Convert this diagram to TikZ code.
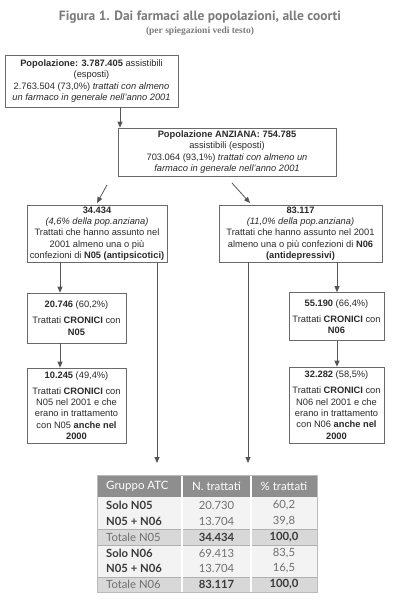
\documentclass[tikz,border=0pt]{standalone}
\usepackage{fontspec}
\setmainfont{Liberation Sans}
\newfontfamily\titlefont{PT Sans}
\newfontfamily\tabfont{Lato}
\newfontfamily\subfont{Liberation Serif}
\usetikzlibrary{arrows.meta}
\definecolor{boxgray}{HTML}{6A6A6A}
\definecolor{linegray}{HTML}{555555}
\definecolor{textc}{HTML}{2A2A2A}
\definecolor{titlegray}{HTML}{7C7C7C}
\definecolor{hdrgray}{HTML}{8E8E8E}
\definecolor{bodygray}{HTML}{F3F3F3}
\definecolor{totgray}{HTML}{D8D8D8}
\definecolor{tabtext}{HTML}{707070}
\definecolor{tabdark}{HTML}{3A3A3A}
\begin{document}
\begin{tikzpicture}[x=1pt,y=-1pt,
  box/.style={draw=boxgray, line width=0.7pt, align=center, inner sep=0pt,
    font=\fontsize{9.3}{11.3}\selectfont, text=textc},
  arr/.style={draw=linegray, line width=0.8pt, -{Triangle[length=6pt,width=5pt]}},
  tcell/.style={inner sep=0pt, font=\tabfont\fontsize{11.3}{12}\selectfont, text=tabtext},
  tbold/.style={tcell, font=\tabfont\bfseries\fontsize{11.3}{12}\selectfont, text=tabdark},
  thdr/.style={inner sep=0pt, font=\tabfont\fontsize{11.5}{12}\selectfont, text=white}]
\useasboundingbox[fill=white] (0,0) rectangle (400,600);

% title
\node[text=titlegray, font=\titlefont\bfseries\fontsize{13.5}{15}\selectfont] (title) at (200,17) {Figura 1. Dai farmaci alle popolazioni, alle coorti};
\node[text=titlegray, font=\subfont\bfseries\fontsize{9.5}{11}\selectfont] (sub) at (200,31) {(per spiegazioni vedi testo)};

% boxes
\node[box, minimum width=173pt, minimum height=52pt] (b1) at (91.5,81) {%
  \textbf{Popolazione: 3.787.405} assistibili\\ (esposti)\\
  2.763.504 (73,0\%) \textit{trattati con almeno}\\
  \textit{un farmaco in generale nell'anno 2001}};
\node[box, minimum width=218pt, minimum height=48pt] (b2) at (227,152) {%
  \textbf{Popolazione ANZIANA: 754.785}\\ assistibili (esposti)\\
  703.064 (93,1\%) \textit{trattati con almeno un}\\
  \textit{farmaco in generale nell'anno 2001}};
\node[box, minimum width=140pt, minimum height=57pt] (b3) at (97,233.5) {%
  \textbf{34.434}\\ \textit{(4,6\% della pop.anziana)}\\
  Trattati che hanno assunto nel\\ 2001 almeno una o più\\
  confezioni di \textbf{N05 (antipsicotici)}};
\node[box, minimum width=163pt, minimum height=57pt] (b4) at (300.5,233.5) {%
  \textbf{83.117}\\ \textit{(11,0\% della pop.anziana)}\\
  Trattati che hanno assunto nel 2001\\ almeno una o più confezioni di \textbf{N06}\\
  \textbf{(antidepressivi)}};
\node[box, minimum width=99pt, minimum height=50pt] (b5) at (76.5,318) {%
  \textbf{20.746} (60,2\%)\\[5pt] Trattati \textbf{CRONICI} con\\ \textbf{N05}};
\node[box, minimum width=95pt, minimum height=48pt] (b6) at (336.5,316.5) {%
  \textbf{55.190} (66,4\%)\\[5pt] Trattati \textbf{CRONICI} con\\ \textbf{N06}};
\node[box, minimum width=99pt, minimum height=75pt] (b7) at (76.5,405.5) {%
  \textbf{10.245} (49,4\%)\\[5pt] Trattati \textbf{CRONICI} con\\ N05 nel 2001 e che\\
  erano in trattamento\\ con N05 \textbf{anche nel}\\ \textbf{2000}};
\node[box, minimum width=95pt, minimum height=76pt] (b8) at (336.5,405) {%
  \textbf{32.282} (58,5\%)\\[5pt] Trattati \textbf{CRONICI} con\\ N06 nel 2001 e che\\
  erano in trattamento\\ con N06 \textbf{anche nel}\\ \textbf{2000}};

% helper coordinates
\coordinate (x1) at (120,0);
\coordinate (d1s) at (107,185);
\coordinate (d1e) at (97,203);
\coordinate (d2s) at (232,183);
\coordinate (d2e) at (250,203);
\coordinate (xl) at (60,0);
\coordinate (xr) at (337,0);
\coordinate (t1) at (157,463);
\coordinate (t2) at (248,463);

% connectors
\draw[arr] (b1.south -| x1) -- (b2.north -| x1);
\draw[arr] (d1s) -- (d1e);
\draw[arr] (d2s) -- (d2e);
\draw[arr] (b3.south -| xl) -- (b5.north -| xl);
\draw[arr] (b5.south -| xl) -- (b7.north -| xl);
\draw[arr] (b4.south -| xr) -- (b6.north -| xr);
\draw[arr] (b6.south -| xr) -- (b8.north -| xr);
\draw[arr] (b3.south -| t1) -- (t1);
\draw[arr] (b4.south -| t2) -- (t2);

% table
\fill[bodygray] (97,497) rectangle (317,592);
\fill[hdrgray] (97,475) rectangle (317,497);
\filldraw[fill=totgray, draw=hdrgray!70, line width=0.5pt] (97,529) rectangle (317,545);
\filldraw[fill=totgray, draw=hdrgray!70, line width=0.5pt] (97,577) rectangle (317,592);
\draw[white, line width=1.5pt] (182,475) -- (182,592) (251,475) -- (251,592);
\draw[hdrgray!60, line width=0.5pt] (97,475) rectangle (317,592);

\node[thdr, anchor=west] (h1) at (106,486) {Gruppo ATC};
\node[thdr] (h2) at (216.5,486) {N. trattati};
\node[thdr] (h3) at (284,486) {\% trattati};

\node[tbold, anchor=west] (r1c1) at (106,505) {Solo N05};
\node[tcell] (r1c2) at (216.5,505) {20.730};
\node[tcell] (r1c3) at (284,505) {60,2};
\node[tbold, anchor=west] (r2c1) at (106,521) {N05 + N06};
\node[tcell] (r2c2) at (216.5,521) {13.704};
\node[tcell] (r2c3) at (284,521) {39,8};
\node[tcell, anchor=west] (r3c1) at (106,537) {Totale N05};
\node[tbold] (r3c2) at (216.5,537) {34.434};
\node[tbold] (r3c3) at (284,537) {100,0};
\node[tbold, anchor=west] (r4c1) at (106,553) {Solo N06};
\node[tcell] (r4c2) at (216.5,553) {69.413};
\node[tcell] (r4c3) at (284,553) {83,5};
\node[tbold, anchor=west] (r5c1) at (106,568.5) {N05 + N06};
\node[tcell] (r5c2) at (216.5,568.5) {13.704};
\node[tcell] (r5c3) at (284,568.5) {16,5};
\node[tcell, anchor=west] (r6c1) at (106,584.5) {Totale N06};
\node[tbold] (r6c2) at (216.5,584.5) {83.117};
\node[tbold] (r6c3) at (284,584.5) {100,0};
\end{tikzpicture}
\end{document}
